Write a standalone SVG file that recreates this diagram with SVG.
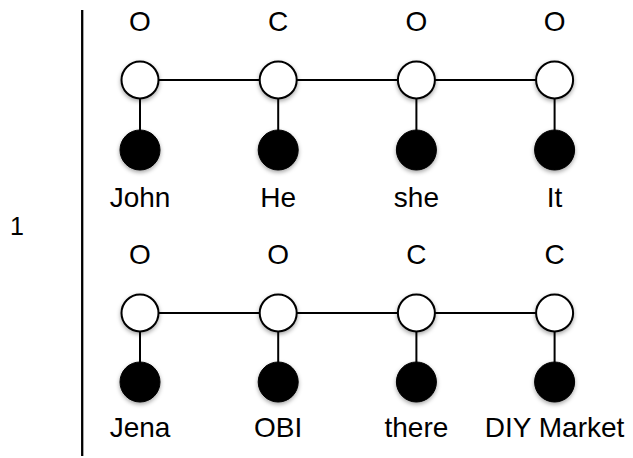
<svg xmlns="http://www.w3.org/2000/svg" width="633" height="458" viewBox="0 0 633 458">
<style>
text{font-family:"Liberation Sans",Arial,sans-serif;fill:#000;text-anchor:middle}
.lbl{font-size:28px}
.edge{stroke:#000;stroke-width:2;fill:none}
.open{fill:#fff;stroke:#000;stroke-width:2;filter:url(#sh)}
.obs{fill:#000;stroke:#000;stroke-width:1;filter:url(#sh)}
</style>
<defs>
<filter id="sh" x="-50%" y="-50%" width="200%" height="200%">
<feDropShadow dx="0" dy="2" stdDeviation="2" flood-color="#000" flood-opacity="0.35"/>
</filter>
</defs>
<rect width="633" height="458" fill="#fff"/>
<line x1="82.2" y1="10" x2="82.2" y2="456" stroke="#000" stroke-width="2.3"/>
<text x="17" y="235" style="font-size:25px">1</text>
<g id="connectors">
<line class="edge" x1="140" y1="80" x2="554.6" y2="80"/>
<line class="edge" x1="140" y1="80" x2="140" y2="150"/>
<line class="edge" x1="278.2" y1="80" x2="278.2" y2="150"/>
<line class="edge" x1="416.4" y1="80" x2="416.4" y2="150"/>
<line class="edge" x1="554.6" y1="80" x2="554.6" y2="150"/>
<line class="edge" x1="140" y1="313" x2="554.6" y2="313"/>
<line class="edge" x1="140" y1="313" x2="140" y2="382"/>
<line class="edge" x1="278.2" y1="313" x2="278.2" y2="382"/>
<line class="edge" x1="416.4" y1="313" x2="416.4" y2="382"/>
<line class="edge" x1="554.6" y1="313" x2="554.6" y2="382"/>
</g>
<g id="s1"><text class="lbl" x="140" y="31">O</text><circle class="open" cx="140" cy="80" r="18.5"/></g>
<g id="s2"><text class="lbl" x="278.2" y="31">C</text><circle class="open" cx="278.2" cy="80" r="18.5"/></g>
<g id="s3"><text class="lbl" x="416.4" y="31">O</text><circle class="open" cx="416.4" cy="80" r="18.5"/></g>
<g id="s4"><text class="lbl" x="554.6" y="31">O</text><circle class="open" cx="554.6" cy="80" r="18.5"/></g>
<g id="w1"><circle class="obs" cx="140" cy="150" r="20"/><text class="lbl" x="140" y="207">John</text></g>
<g id="w2"><circle class="obs" cx="278.2" cy="150" r="20"/><text class="lbl" x="278.2" y="207">He</text></g>
<g id="w3"><circle class="obs" cx="416.4" cy="150" r="20"/><text class="lbl" x="416.4" y="207">she</text></g>
<g id="w4"><circle class="obs" cx="554.6" cy="150" r="20"/><text class="lbl" x="554.6" y="207">It</text></g>
<g id="s5"><text class="lbl" x="140" y="264">O</text><circle class="open" cx="140" cy="313" r="18.5"/></g>
<g id="s6"><text class="lbl" x="278.2" y="264">O</text><circle class="open" cx="278.2" cy="313" r="18.5"/></g>
<g id="s7"><text class="lbl" x="416.4" y="264">C</text><circle class="open" cx="416.4" cy="313" r="18.5"/></g>
<g id="s8"><text class="lbl" x="554.6" y="264">C</text><circle class="open" cx="554.6" cy="313" r="18.5"/></g>
<g id="w5"><circle class="obs" cx="140" cy="382" r="20"/><text class="lbl" x="140" y="437">Jena</text></g>
<g id="w6"><circle class="obs" cx="278.2" cy="382" r="20"/><text class="lbl" x="278.2" y="437">OBI</text></g>
<g id="w7"><circle class="obs" cx="416.4" cy="382" r="20"/><text class="lbl" x="416.4" y="437">there</text></g>
<g id="w8"><circle class="obs" cx="554.6" cy="382" r="20"/><text class="lbl" x="554.6" y="437">DIY Market</text></g>
</svg>
